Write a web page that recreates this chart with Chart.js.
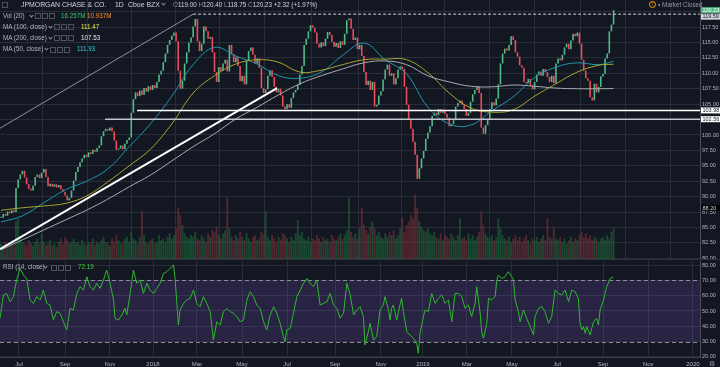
<!DOCTYPE html>
<html>
<head>
<meta charset="utf-8">
<title>JPM 1D</title>
<script src="https://cdn.jsdelivr.net/npm/chart.js@4.4.0/dist/chart.umd.min.js"></script>
<style>
  html, body { margin: 0; padding: 0; background: #131722; overflow: hidden; }
  #wrap { position: relative; width: 720px; height: 367px; overflow: hidden; font-family: "Liberation Sans", Arial, sans-serif; }
  canvas { position: absolute; left: 0; }
  #priceChart { top: 0; }
  #rsiChart { top: 259px; }
  .lg { position: absolute; white-space: nowrap; font-size: 6.3px; line-height: 8px; color: #b2b5be; }
  .ic { position: absolute; width: 4px; height: 4px; border: 1px solid #4f535f; }
  .cr { position: absolute; width: 2px; height: 2px; border-right: 1px solid #9598a1; border-bottom: 1px solid #9598a1; transform: rotate(45deg); }
  .dim { color: #8a8e99; }
</style>
</head>
<body>
<div id="wrap">
  <canvas id="priceChart" width="720" height="259"></canvas>
  <canvas id="rsiChart" width="720" height="120"></canvas>
  <div id="legend"></div>
</div>
<script>
// daily bars grouped two by two, Jun 2017 - Sep 13 2019 (close)
const closes = [
  86.6, 87.2, 86.9, 87.6, 87.3, 87.8, 87.5, 91.4, 92.8, 93.6,
  94.2, 93.1, 92.0, 91.3, 91.0, 91.8, 93.2, 93.6, 93.0, 93.9,
  94.5, 93.2, 91.7, 92.1, 91.6, 92.0, 91.5, 91.9, 91.2, 90.8,
  90.2, 89.4, 89.8, 91.0, 92.6, 94.0, 94.8, 95.6, 96.2, 96.8,
  96.4, 97.2, 96.9, 97.6, 97.3, 97.9, 98.3, 99.8, 100.6, 101.0,
  100.7, 101.2, 100.6, 99.1, 97.6, 97.8, 98.3, 97.7, 98.6, 99.2,
  99.6, 103.6, 105.8, 106.9, 106.3, 107.2, 106.5, 107.6, 107.0, 107.9,
  107.3, 108.1, 107.6, 108.6, 109.8, 110.4, 111.8, 113.2, 114.6, 115.4,
  116.1, 116.6, 115.2, 110.4, 107.5, 108.8, 111.6, 113.4, 115.0, 115.8,
  117.6, 118.8, 115.2, 113.6, 114.8, 117.6, 116.8, 115.6, 115.9, 113.4,
  110.2, 108.6, 111.0, 110.4, 111.6, 112.2, 110.3, 114.6, 113.1, 111.8,
  112.6, 111.2, 108.7, 109.6, 108.2, 112.0, 113.6, 114.2, 113.0, 111.6,
  112.4, 110.9, 107.6, 106.8, 107.4, 109.6, 110.5, 109.4, 107.8, 106.9,
  107.5, 106.4, 104.6, 104.2, 105.0, 104.4, 106.0, 106.9, 107.3, 108.1,
  109.8, 111.2, 114.6, 115.6, 116.8, 117.8, 117.4, 116.6, 114.8, 114.2,
  115.0, 114.4, 115.6, 116.7, 116.2, 115.1, 114.3, 114.9, 114.1, 115.2,
  114.6, 116.4, 118.6, 118.9, 117.2, 115.4, 115.8, 113.9, 114.6, 112.8,
  110.2, 108.1, 108.8, 107.3, 108.6, 104.6, 104.9, 106.4, 107.1, 109.0,
  110.6, 111.4, 109.6, 110.0, 108.2, 109.2, 110.6, 111.1, 110.7, 107.8,
  104.9, 102.6, 101.0, 98.9, 96.8, 92.9, 94.6, 96.2, 97.4, 99.4,
  100.4, 101.4, 103.1, 103.6, 103.2, 104.2, 103.6, 104.1, 103.4, 102.8,
  101.4, 101.8, 102.4, 104.6, 105.2, 105.6, 104.9, 104.2, 103.1, 103.6,
  105.4, 106.6, 107.3, 107.9, 106.8, 101.2, 100.2, 101.6, 102.6, 104.2,
  105.3, 104.8, 105.9, 108.2, 111.6, 113.2, 114.0, 113.7, 114.6, 116.0,
  115.4, 113.4, 112.7, 111.3, 110.9, 108.6, 108.4, 109.1, 108.0, 107.4,
  108.6, 109.8, 110.3, 109.6, 110.7, 110.2, 109.4, 108.6, 109.6, 108.4,
  111.6, 112.4, 112.1, 113.0, 114.2, 114.8, 113.9, 115.3, 116.4, 116.0,
  116.6, 114.8, 112.2, 110.4, 109.2, 108.8, 106.1, 105.6, 108.3, 106.9,
  107.8, 109.5, 109.9, 112.4, 113.2, 116.8, 117.9, 120.23
];

// volume, millions
const volumes = [
  9, 8, 10, 7, 9, 11, 8, 22, 24, 13,
  10, 9, 8, 11, 9, 8, 10, 12, 9, 15,
  10, 8, 9, 11, 8, 9, 7, 10, 12, 9,
  13, 11, 9, 10, 12, 9, 10, 8, 11, 9,
  8, 10, 9, 12, 8, 10, 9, 11, 13, 10,
  9, 8, 12, 10, 14, 11, 9, 10, 12, 13,
  10, 16, 12, 11, 9, 13, 28, 14, 10, 9,
  11, 12, 9, 10, 14, 11, 12, 10, 13, 15,
  12, 14, 18, 30, 26, 20, 15, 13, 12, 14,
  13, 16, 12, 11, 14, 12, 10, 15, 13, 17,
  16, 19, 14, 12, 15, 17, 36, 18, 13, 11,
  14, 12, 16, 13, 11, 15, 12, 10, 13, 14,
  11, 12, 16, 14, 28, 13, 11, 14, 12, 10,
  13, 11, 15, 14, 12, 10, 13, 11, 15, 23,
  14, 16, 12, 11, 13, 10, 12, 11, 14, 12,
  10, 13, 11, 12, 10, 14, 12, 11, 13, 15,
  12, 14, 17, 36, 16, 13, 15, 12, 18, 30,
  20, 17, 15, 19, 22, 18, 14, 16, 13, 12,
  15, 13, 16, 14, 17, 12, 14, 18, 24, 16,
  20, 22, 26, 24, 38, 30, 22, 19, 17, 16,
  18, 15, 14, 16, 13, 12, 15, 11, 14, 13,
  12, 15, 13, 11, 14, 24, 12, 13, 11, 15,
  12, 14, 11, 13, 16, 28, 20, 15, 13, 12,
  14, 11, 13, 24, 18, 14, 12, 11, 13, 10,
  12, 14, 11, 13, 10, 12, 14, 11, 9, 12,
  11, 13, 10, 12, 14, 11, 24, 13, 12, 19,
  12, 11, 13, 10, 12, 9, 11, 13, 10, 12,
  11, 14, 16, 13, 15, 12, 14, 11, 13, 12,
  10, 12, 13, 11, 14, 12, 16, 18
];

// moving averages, at these bar indexes
const maIdx = [0, 10, 20, 30, 40, 50, 60, 70, 80, 90, 100, 110, 120, 130, 140,
  150, 160, 170, 180, 190, 200, 210, 220, 230, 240, 250, 260, 270, 280, 287];
const ma50 = [85.9, 86.9, 89.0, 91.1, 92.5, 94.5, 98.1, 101.8, 106.3, 111.4, 114.2, 112.8, 111.5, 109.6, 109.2,
  110.2, 112.9, 114.9, 112.2, 109.9, 104.5, 101.8, 101.6, 103.9, 106.2, 109.3, 111.0, 111.7, 111.4, 111.93];
const ma100 = [87.8, 88.2, 88.5, 88.9, 90.1, 92.4, 95.0, 97.7, 101.8, 106.8, 109.6, 111.5, 112.2, 111.8, 110.2,
  110.5, 111.4, 112.2, 112.3, 112.2, 110.1, 106.8, 104.4, 103.7, 104.1, 106.3, 108.3, 110.2, 111.3, 111.47];
const ma200 = [81.4, 83.0, 84.6, 86.2, 87.8, 89.6, 91.6, 93.5, 95.8, 98.1, 100.2, 102.6, 104.5, 106.5, 108.3,
  109.6, 110.7, 111.7, 112.0, 111.4, 109.6, 108.6, 107.9, 107.8, 108.1, 107.9, 107.6, 107.5, 107.5, 107.53];

// RSI (14)
const rsiIdx = [-0.5, 1.1, 2.6, 4.2, 5.8, 7.3, 8.9, 10.5, 12.0, 13.6, 15.2, 16.7, 18.3, 19.8, 21.4, 23.0, 24.5, 26.1,
  27.7, 29.2, 30.8, 32.3, 33.9, 35.5, 37.0, 38.6, 40.2, 41.7, 43.3, 44.8, 46.4, 48.0, 49.5, 51.1, 52.7, 53.4,
  55.0, 56.6, 58.1, 58.9, 60.5, 62.0, 63.6, 65.2, 66.7, 68.3, 69.8, 71.4, 73.0, 74.5, 76.1, 77.7, 79.2, 80.8,
  81.6, 83.1, 83.9, 85.5, 87.0, 88.6, 90.2, 91.7, 93.3, 94.8, 96.4, 98.0, 99.5, 101.1, 102.7, 104.2, 105.8,
  107.3, 108.9, 110.5, 112.0, 113.6, 115.2, 116.7, 118.3, 119.8, 121.4, 123.0, 124.5, 126.1, 127.7, 129.2,
  130.8, 132.3, 133.1, 133.9, 135.5, 137.0, 138.6, 140.2, 141.7, 143.3, 144.8, 146.4, 147.9, 149.5, 151.1,
  152.7, 154.2, 155.8, 157.3, 158.9, 160.5, 162.0, 163.6, 165.2, 166.7, 168.2, 169.8, 170.5, 172.1, 172.9,
  174.5, 176.0, 177.6, 179.1, 179.9, 181.5, 182.3, 183.0, 183.8, 185.4, 186.9, 187.7, 188.5, 190.1, 191.6,
  193.2, 194.8, 195.5, 196.3, 197.9, 198.7, 200.2, 201.8, 203.4, 204.9, 206.5, 208.0, 209.6, 211.2, 212.7,
  214.3, 215.9, 217.4, 219.0, 220.5, 222.1, 222.9, 224.5, 225.2, 226.0, 227.6, 228.4, 229.9, 231.5, 232.3,
  233.0, 234.6, 236.2, 237.7, 239.3, 240.1, 240.9, 242.4, 243.2, 244.8, 246.3, 247.9, 249.5, 250.2, 251.8,
  253.4, 254.9, 256.5, 258.0, 259.6, 261.2, 262.7, 264.3, 265.9, 267.4, 269.0, 270.5, 271.3, 272.1, 272.9,
  273.7, 274.5, 276.0, 277.6, 279.1, 279.9, 280.7, 282.3, 283.8, 285.4, 286.8];
const rsiVal = [45.2, 60.5, 61.5, 56.1, 59.4, 70.3, 77.9, 73.5, 71.3, 57.2, 55.0, 59.4, 57.2, 63.7, 55.0, 53.9, 44.1, 49.6,
  48.5, 43.0, 37.6, 51.7, 50.7, 61.5, 65.9, 63.7, 72.4, 65.9, 63.7, 68.1, 64.8, 70.3, 76.8, 68.1, 57.2, 45.2,
  44.1, 47.4, 51.7, 47.4, 61.5, 76.8, 68.1, 70.3, 61.5, 68.1, 63.7, 61.5, 64.8, 68.1, 74.6, 75.7, 77.9, 80.1,
  70.3, 40.8, 50.7, 55.0, 57.2, 58.3, 63.7, 55.0, 52.8, 59.4, 55.0, 49.6, 31.0, 43.0, 40.8, 49.6, 51.7,
  49.6, 48.5, 46.3, 43.0, 44.1, 57.2, 62.6, 59.4, 53.9, 51.7, 43.0, 37.6, 47.4, 52.8, 48.5,
  41.9, 33.2, 29.9, 37.6, 38.7, 48.5, 59.4, 63.7, 68.1, 71.3, 68.1, 65.9, 70.3, 53.9, 55.0,
  56.1, 61.5, 53.9, 51.7, 45.2, 48.5, 68.1, 60.5, 47.4, 50.7, 52.8, 46.3, 27.8, 36.5, 41.9,
  31.0, 33.2, 50.7, 53.9, 59.4, 50.7, 44.1, 51.7, 53.9, 44.1, 53.9, 58.3, 49.6, 36.5, 34.3,
  32.1, 28.9, 22.3, 35.4, 46.3, 50.7, 49.6, 61.5, 55.0, 58.3, 60.5, 55.0, 57.2, 43.0, 61.5,
  61.5, 59.4, 51.7, 53.9, 46.3, 55.0, 65.9, 48.5, 36.5, 32.1, 41.9, 58.3, 57.2, 59.4, 70.3,
  73.5, 71.3, 72.4, 75.7, 72.4, 70.3, 57.2, 49.6, 43.0, 50.7, 45.2, 39.8, 34.3, 46.3, 51.7,
  52.8, 49.6, 41.9, 46.3, 63.7, 61.5, 60.5, 63.7, 56.1, 63.7, 62.6, 58.3, 41.9, 37.6, 39.8,
  35.4, 39.8, 34.3, 43.0, 45.2, 40.8, 50.7, 57.2, 65.9, 71.3, 72.19];

// drawings: [bar index, price] pairs
const channelLine = [[-0.5, 101.1], [90, 119.59]];
const trendLine = [[-0.5, 81.5], [129.3, 107.6]];
const dashLevel = [[90, 119.59], [340, 119.59]];
const levelA = [[63.7, 103.98], [340, 103.98]];
const levelB = [[48.7, 102.56], [340, 102.56]];

const monthIdx = [8.4, 30, 51, 71.2, 91.8, 112.9, 134, 156.5, 178, 197.7, 218.3, 239.4, 260.5, 282.1, 303.2, 324.2];
const monthLabels = ['Jul', 'Sep', 'Nov', '2018', 'Mar', 'May', 'Jul', 'Sep', 'Nov', '2019', 'Mar', 'May', 'Jul', 'Sep', 'Nov', '2020'];
const priceTicks = [80, 82.5, 85, 87.5, 90, 92.5, 95, 97.5, 100, 102.5, 105, 107.5, 110, 112.5, 115, 117.5, 120];
const rsiTicks = [20, 30, 40, 50, 60, 70, 80];
const markPrices = [120.23, 119.59, 103.98, 102.56, 88.20];

const X_MIN = -0.5, X_MAX = 327.5;
const GRID = '#292d39';
const TXT = '#b2b5be';
const FONT = 'Liberation Sans';
const UP = '#53b987', DOWN = '#eb4d5c';

const opens = closes.map((c, i) => i ? closes[i - 1] : c);
const candleData = closes.map((c, i) => ({ x: i, y: [opens[i], c] }));
const candleColors = closes.map((c, i) => c >= opens[i] ? UP : DOWN);
const volData = volumes.map((v, i) => ({ x: i, y: v }));
const volColors = closes.map((c, i) => c >= opens[i] ? 'rgba(34,120,60,0.5)' : 'rgba(130,52,62,0.55)');
const toXY = pts => pts.map(p => ({ x: p[0], y: p[1] }));
const maData = arr => maIdx.map((x, k) => ({ x: x, y: arr[k] }));

function noPad(s) { s.paddingTop = 0; s.paddingBottom = 0; s.paddingLeft = 0; s.paddingRight = 0; }

function lineSet(data, color, width, dash) {
  return {
    type: 'line', data: data, borderColor: color, borderWidth: width, borderDash: dash || [],
    pointRadius: 0, fill: false, yAxisID: 'y', order: 1
  };
}

// price labels on the right axis
const markBoxes = {
  id: 'markBoxes',
  afterDraw(chart) {
    const { ctx, scales: { y } } = chart;
    const styles = [
      { bg: '#53b987', fg: '#ffffff' },
      { bg: '#d1d4dc', fg: '#131722' },
      { bg: '#ffffff', fg: '#131722' },
      { bg: '#ffffff', fg: '#131722' },
      { bg: '#000000', fg: '#d1d4dc' }
    ];
    let prev = -100;
    ctx.save();
    ctx.font = '5.5px "' + FONT + '"';
    ctx.textBaseline = 'middle';
    markPrices.forEach((p, k) => {
      let py = y.getPixelForValue(p);
      if (py - prev < 6.5) py = prev + 6.5;
      prev = py;
      ctx.fillStyle = styles[k].bg;
      ctx.fillRect(y.left + 1, py - 3, 20, 6);
      ctx.fillStyle = styles[k].fg;
      ctx.fillText(p.toFixed(2), y.left + 2.5, py + 0.3);
    });
    ctx.restore();
  }
};

new Chart(document.getElementById('priceChart'), {
  type: 'bar',
  data: {
    datasets: [
      { type: 'bar', data: volData, backgroundColor: volColors, yAxisID: 'vol', grouped: false,
        barPercentage: 0.9, categoryPercentage: 1, order: 10 },
      { type: 'bar', data: candleData, backgroundColor: candleColors, yAxisID: 'y', grouped: false,
        barPercentage: 0.75, categoryPercentage: 1, minBarLength: 1, order: 5 },
      Object.assign(lineSet(maData(ma200), '#a9abb2', 1), { tension: 0.4, order: 3 }),
      Object.assign(lineSet(maData(ma100), '#a8a62e', 1), { tension: 0.4, order: 3 }),
      Object.assign(lineSet(maData(ma50), '#1f97ad', 1), { tension: 0.4, order: 3 }),
      lineSet(toXY(channelLine), '#8f929c', 1),
      lineSet(toXY(trendLine), '#ffffff', 2),
      lineSet(toXY(dashLevel), '#d1d4dc', 1, [3, 2]),
      lineSet(toXY(levelA), '#ffffff', 1.5),
      lineSet(toXY(levelB), '#c3c5cc', 1.5)
    ]
  },
  options: {
    responsive: false,
    animation: false,
    events: [],
    layout: { padding: 0 },
    plugins: { legend: { display: false }, tooltip: { enabled: false } },
    scales: {
      x: {
        type: 'linear', min: X_MIN, max: X_MAX, offset: false,
        ticks: { display: false },
        grid: { color: GRID, drawTicks: false },
        border: { display: false },
        afterBuildTicks: s => { s.ticks = monthIdx.map(v => ({ value: v })); },
        afterFit: noPad
      },
      y: {
        position: 'right', min: 79.9, max: 121.88,
        afterBuildTicks: s => { s.ticks = priceTicks.map(v => ({ value: v })); },
        ticks: { color: TXT, font: { size: 5.5, family: FONT }, padding: 2, callback: v => v.toFixed(2) },
        grid: { color: GRID, drawTicks: false },
        border: { display: true, color: '#4a4e59' },
        afterFit: s => { s.width = 20; noPad(s); }
      },
      vol: { display: false, min: 0, max: 152 }
    }
  },
  plugins: [markBoxes]
});

const rsiBand = {
  id: 'rsiBand',
  beforeDatasetsDraw(chart) {
    const { ctx, chartArea: a, scales: { y } } = chart;
    const t = y.getPixelForValue(70), b = y.getPixelForValue(30);
    ctx.save();
    ctx.fillStyle = 'rgba(126,87,194,0.2)';
    ctx.fillRect(a.left, t, a.right - a.left, b - t);
    ctx.strokeStyle = '#8a8d97';
    ctx.lineWidth = 1;
    ctx.setLineDash([4, 3]);
    [t, b].forEach(py => {
      ctx.beginPath();
      ctx.moveTo(a.left, Math.round(py) + 0.5);
      ctx.lineTo(a.right, Math.round(py) + 0.5);
      ctx.stroke();
    });
    ctx.setLineDash([]);
    ctx.strokeStyle = '#2e323e';
    ctx.beginPath();
    ctx.moveTo(0, 0.5);
    ctx.lineTo(720, 0.5);
    ctx.stroke();
    ctx.restore();
  }
};

new Chart(document.getElementById('rsiChart'), {
  type: 'line',
  data: {
    datasets: [{
      data: rsiIdx.map((x, k) => ({ x: x, y: rsiVal[k] })),
      borderColor: '#2fb82f', borderWidth: 1, pointRadius: 0, fill: false
    }]
  },
  options: {
    responsive: false,
    animation: false,
    events: [],
    layout: { padding: { top: 2 } },
    plugins: { legend: { display: false }, tooltip: { enabled: false } },
    scales: {
      x: {
        type: 'linear', min: X_MIN, max: X_MAX, offset: false,
        afterBuildTicks: s => { s.ticks = monthIdx.map(v => ({ value: v })); },
        ticks: { color: TXT, font: { size: 6, family: FONT }, padding: 4, maxRotation: 0, autoSkip: false,
          callback: (v, i) => monthLabels[i] },
        grid: { color: GRID, drawTicks: false },
        border: { display: true, color: '#3a3e4a' },
        afterFit: s => { s.height = 22; noPad(s); }
      },
      y: {
        position: 'right', min: 19.9, max: 82.7,
        afterBuildTicks: s => { s.ticks = rsiTicks.map(v => ({ value: v })); },
        ticks: { color: TXT, font: { size: 5.5, family: FONT }, padding: 2, callback: v => v.toFixed(2) },
        grid: { color: GRID, drawTicks: false },
        border: { display: true, color: '#4a4e59' },
        afterFit: s => { s.width = 20; noPad(s); }
      }
    }
  },
  plugins: [rsiBand]
});

// legend text, TradingView style
const legend = document.getElementById('legend');
function put(html, left, top, extra) {
  const d = document.createElement('div');
  d.className = 'lg';
  d.style.left = left + 'px';
  d.style.top = top + 'px';
  if (extra) d.style.cssText += extra;
  d.innerHTML = html;
  legend.appendChild(d);
  return d;
}
function box(cls, left, top) {
  const d = document.createElement('div');
  d.className = cls;
  d.style.left = left + 'px';
  d.style.top = top + 'px';
  legend.appendChild(d);
}
function icons(left, top) {
  for (let k = 0; k < 3; k++) box('ic', left + k * 7, top);
}

box('ic', 2, 1.5);
put('JPMORGAN CHASE &amp; CO.', 21, 0.5, 'font-size:6.9px;color:#d1d4dc;');
put('1D', 115, 0.5, 'font-size:6.9px;color:#d1d4dc;');
put('Cboe BZX', 128, 0.5, 'font-size:6.9px;color:#d1d4dc;');
box('cr', 162, 2.3);
put('<span class="dim">O</span>119.00 <span class="dim">H</span>120.40 <span class="dim">L</span>118.75 ' +
  '<span class="dim">C</span>120.23 +2.32 (+1.97%)', 173, 0.8, 'color:#d1d4dc;');

const rows = [
  { name: 'Vol (20)', top: 11.7, caret: 30, ic: 35, vals: [['16.257M', 61, '#3fc16a'], ['10.937M', 87, '#f5922f']] },
  { name: 'MA (100, close)', top: 22.7, caret: 49, ic: 54, vals: [['111.47', 81, '#f0e64a']] },
  { name: 'MA (200, close)', top: 33.7, caret: 49, ic: 54, vals: [['107.53', 81, '#e6e8ee']] },
  { name: 'MA (50, close)', top: 45, caret: 45, ic: 50, vals: [['111.93', 77, '#41c7de']] },
  { name: 'RSI (14, close)', top: 263, caret: 44, ic: 51, vals: [['72.19', 78, '#3cd13c']] }
];
rows.forEach(r => {
  put(r.name, 3, r.top);
  box('cr', r.caret, r.top + 1.8);
  icons(r.ic, r.top + 1.5);
  r.vals.forEach(v => put(v[0], v[1], r.top, 'color:' + v[2] + ';'));
});

put('!', 649, 0.8, 'width:5px;height:5px;line-height:5px;border:1px solid #ff9800;border-radius:50%;' +
  'color:#ff9800;font-size:5px;text-align:center;');
put('\u2022 Market Closed', 658, 0.5, 'color:#9598a1;');
put('\u2699', 709, 360, 'font-family:"DejaVu Sans";font-size:7px;color:#9598a1;');
</script>
</body>
</html>
